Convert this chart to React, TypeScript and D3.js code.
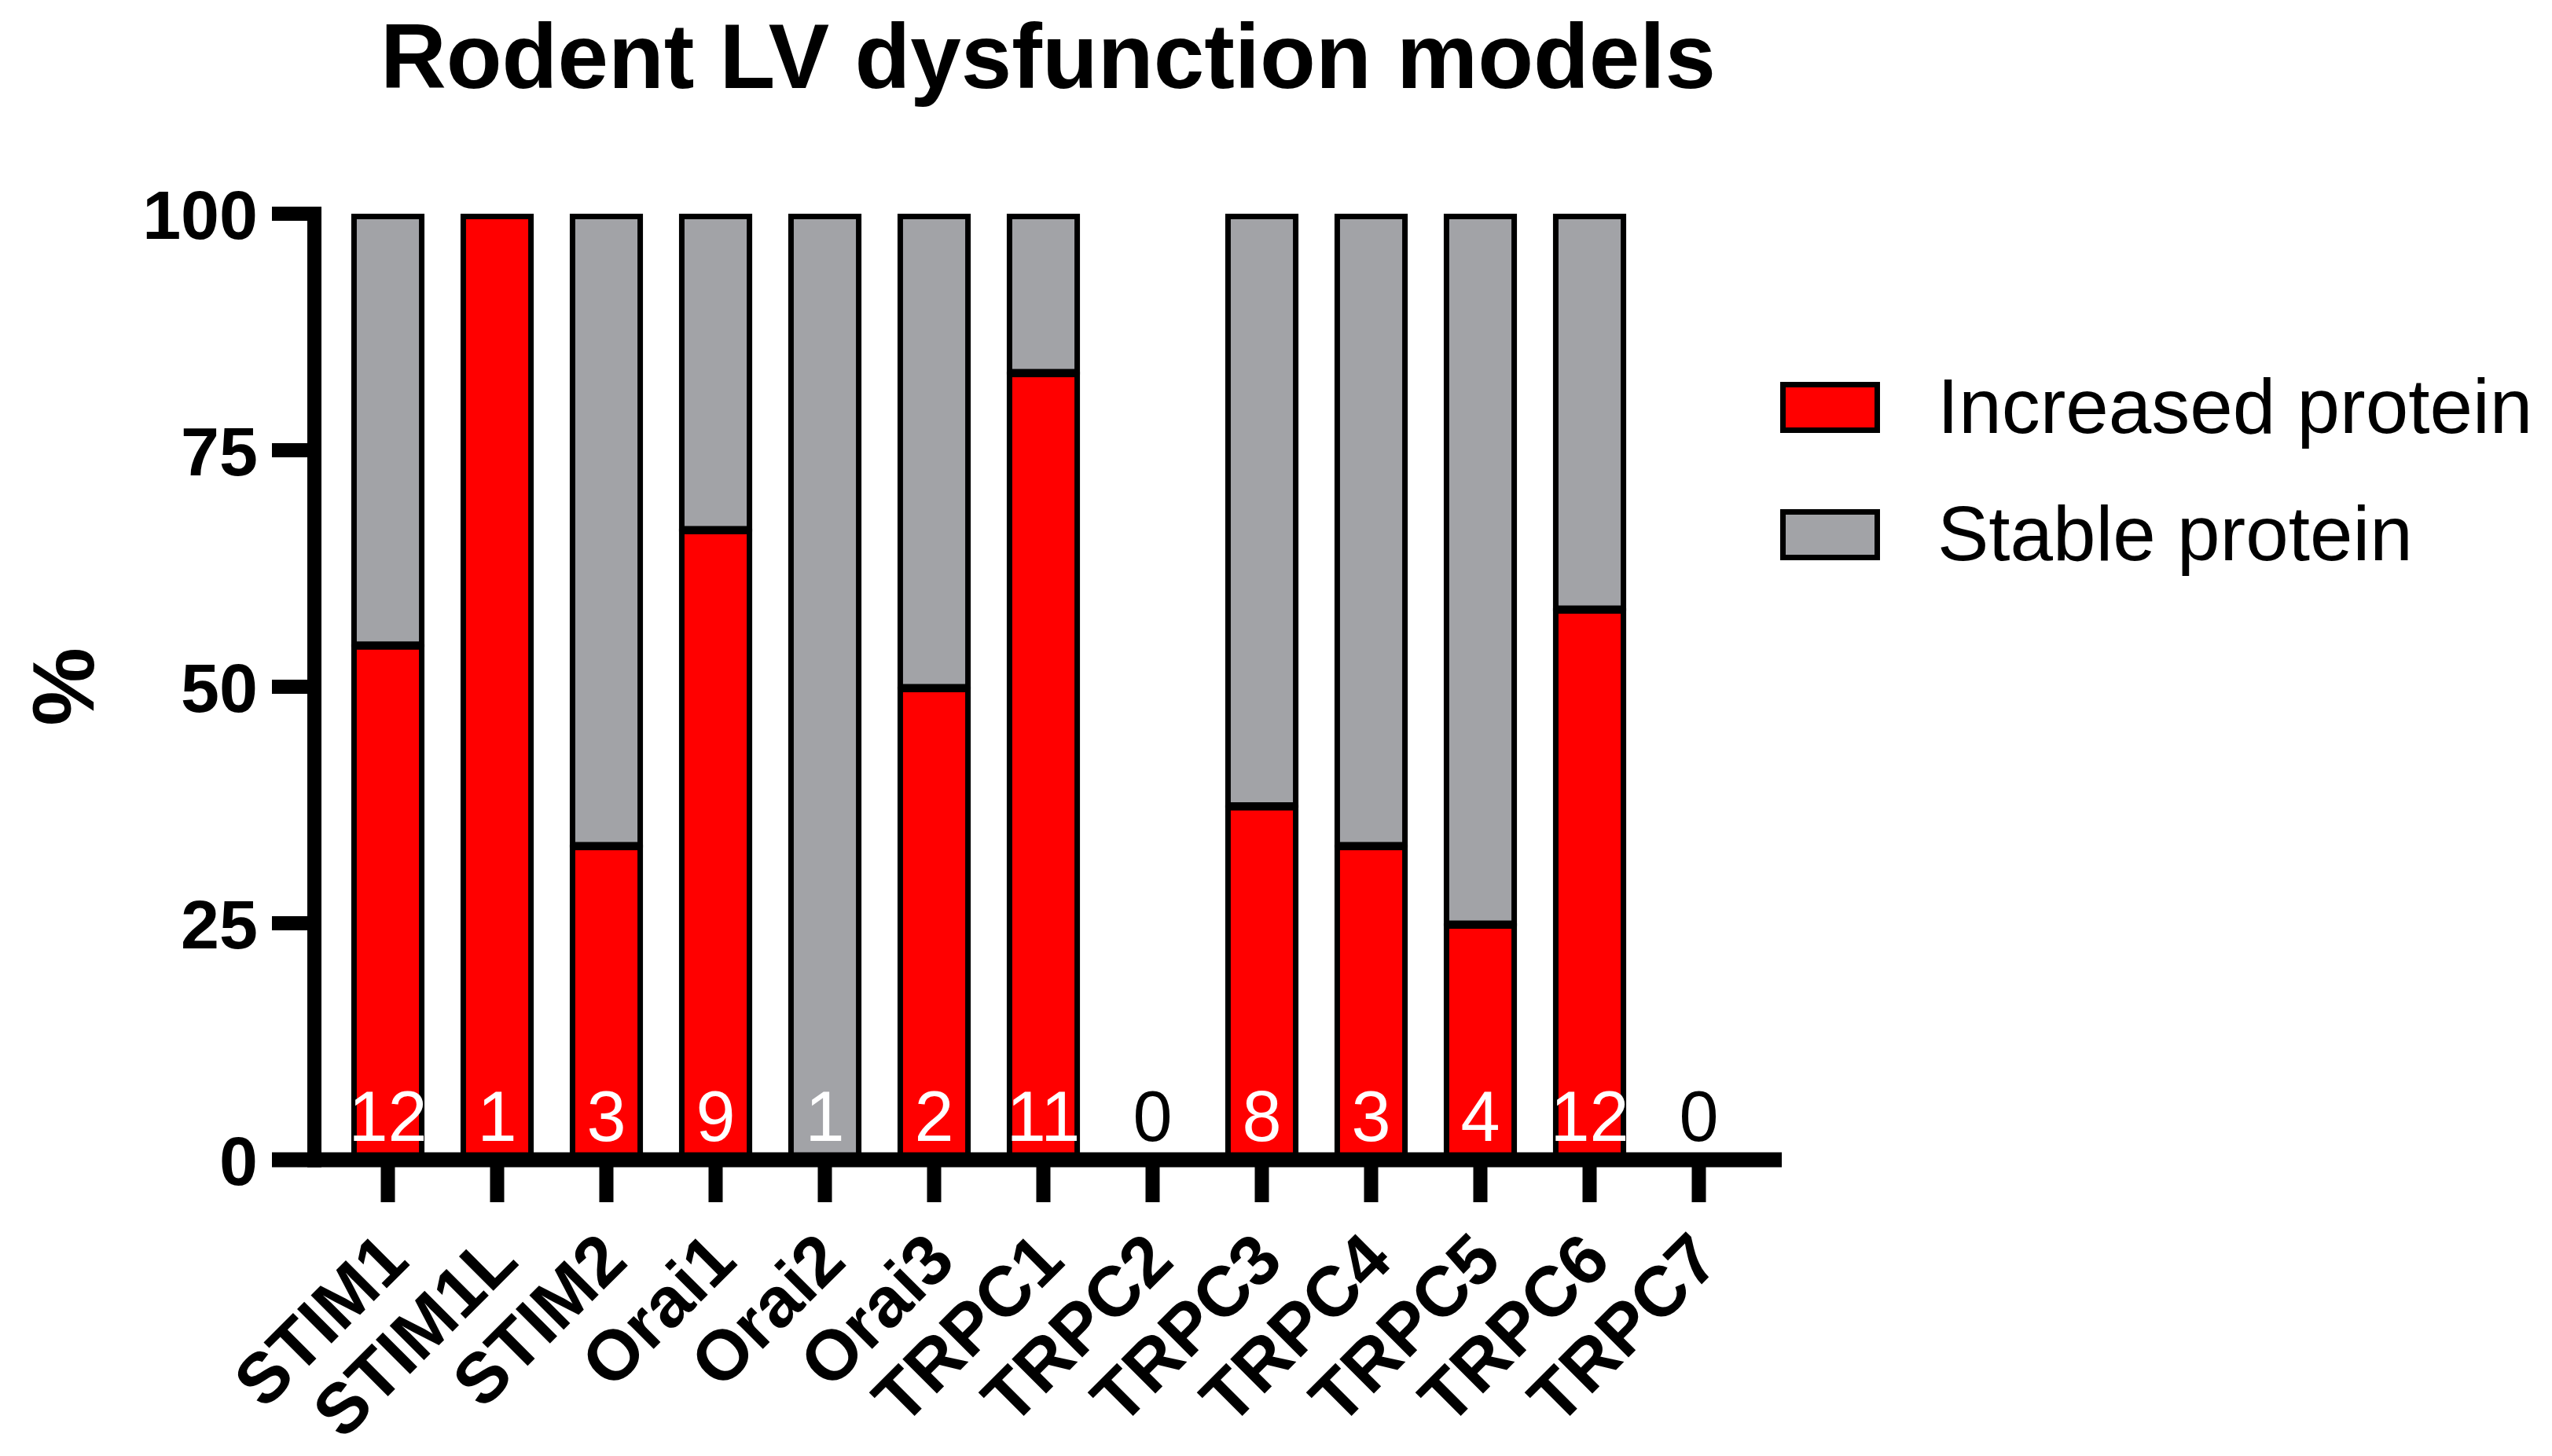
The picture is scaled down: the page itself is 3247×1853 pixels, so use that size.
import { useEffect, useRef } from "react";
import * as d3 from "d3";

/* ------------------------------------------------------------------ */
/*  Data                                                              */
/* ------------------------------------------------------------------ */

const categories = [
  "STIM1", "STIM1L", "STIM2", "Orai1", "Orai2", "Orai3", "TRPC1",
  "TRPC2", "TRPC3", "TRPC4", "TRPC5", "TRPC6", "TRPC7",
];

// % of studies per gene
const increased = [54.5, 100, 33.3, 66.7, 0, 50, 83.3, 0, 37.5, 33.3, 25, 58.3, 0];
const stable = [45.5, 0, 66.7, 33.3, 100, 50, 16.7, 0, 62.5, 66.7, 75, 41.7, 0];

// number of studies shown in each bar
const counts = [12, 1, 3, 9, 1, 2, 11, 0, 8, 3, 4, 12, 0];

const yTicks = [0, 25, 50, 75, 100];

const seriesKeys = ["increased", "stable"];
const seriesLabels = ["Increased protein", "Stable protein"];
const seriesColors = ["#ff0000", "#a2a3a7"];

const TITLE = "Rodent LV dysfunction models";
const Y_LABEL = "%";

/* ------------------------------------------------------------------ */
/*  Layout                                                            */
/* ------------------------------------------------------------------ */

const W = 3247;
const H = 1853;
const FONT = "'Liberation Sans', Arial, Helvetica, sans-serif";
const AXIS_X = 400; // y axis line
const AXIS_W = 18; // axis stroke
const TICK_LEN = 54;
const BAR_STROKE = 7;

export default function App() {
  const svgRef = useRef<SVGSVGElement>(null);

  useEffect(() => {
    const svg = d3.select(svgRef.current);
    svg.selectAll("*").remove();

    const rows = categories.map((c, i) => ({
      cat: c,
      increased: increased[i],
      stable: stable[i],
      n: counts[i],
    }));

    const x = d3
      .scaleBand<string>()
      .domain(categories)
      .range([424, 2231])
      .paddingInner(0.33)
      .paddingOuter(0.165);

    const y = d3.scaleLinear().domain([0, 100]).range([1476, 272]);

    const stack = d3.stack<any>().keys(seriesKeys);
    const layers = stack(rows);

    // Bars: stable (grey) first, then increased (red) on top
    const order = [1, 0];
    for (const li of order) {
      const layer = layers[li];
      svg
        .append("g")
        .selectAll("rect")
        .data(layer.filter((d) => d[1] - d[0] > 0))
        .join("rect")
        .attr("x", (d) => (x(d.data.cat) as number) + BAR_STROKE / 2)
        .attr("width", x.bandwidth() - BAR_STROKE)
        .attr("y", (d) => y(d[1]) + BAR_STROKE / 2)
        .attr("height", (d) => y(d[0]) - y(d[1]) - BAR_STROKE / 2)
        .attr("fill", seriesColors[li])
        .attr("stroke", "#000")
        .attr("stroke-width", BAR_STROKE);
    }

    // Count labels
    svg
      .append("g")
      .selectAll("text")
      .data(rows)
      .join("text")
      .attr("x", (d) => (x(d.cat) as number) + x.bandwidth() / 2)
      .attr("y", y(0) - 24)
      .attr("text-anchor", "middle")
      .attr("font-family", FONT)
      .attr("font-size", 90)
      .attr("fill", (d) => (d.n > 0 ? "#fff" : "#000"))
      .text((d) => d.n);

    // Y axis
    const yAxis = svg.append("g");
    const yTop = y(100) - AXIS_W / 2;
    const xEnd = x.range()[1] + 36;
    yAxis
      .append("line")
      .attr("x1", AXIS_X)
      .attr("x2", AXIS_X)
      .attr("y1", yTop)
      .attr("y2", y(0) + AXIS_W / 2 + 0.5)
      .attr("stroke", "#000")
      .attr("stroke-width", AXIS_W);
    yAxis
      .selectAll("line.tick")
      .data(yTicks)
      .join("line")
      .attr("class", "tick")
      .attr("x1", AXIS_X - TICK_LEN)
      .attr("x2", AXIS_X)
      .attr("y1", (d) => y(d))
      .attr("y2", (d) => y(d))
      .attr("stroke", "#000")
      .attr("stroke-width", AXIS_W);
    yAxis
      .selectAll("text")
      .data(yTicks)
      .join("text")
      .attr("x", AXIS_X - TICK_LEN - 18)
      .attr("y", (d) => y(d))
      .attr("dy", "0.36em")
      .attr("text-anchor", "end")
      .attr("font-family", FONT)
      .attr("font-weight", "bold")
      .attr("font-size", 88)
      .text((d) => d);

    // X axis
    const xAxis = svg.append("g");
    xAxis
      .append("line")
      .attr("x1", AXIS_X - TICK_LEN)
      .attr("x2", xEnd)
      .attr("y1", y(0))
      .attr("y2", y(0))
      .attr("stroke", "#000")
      .attr("stroke-width", AXIS_W + 1);
    xAxis
      .selectAll("line.tick")
      .data(categories)
      .join("line")
      .attr("class", "tick")
      .attr("x1", (d) => (x(d) as number) + x.bandwidth() / 2)
      .attr("x2", (d) => (x(d) as number) + x.bandwidth() / 2)
      .attr("y1", y(0))
      .attr("y2", y(0) + TICK_LEN)
      .attr("stroke", "#000")
      .attr("stroke-width", AXIS_W);
    xAxis
      .selectAll("text")
      .data(categories)
      .join("text")
      .attr(
        "transform",
        (d) => `translate(${(x(d) as number) + x.bandwidth() / 2 + 30},${y(0) + 132}) rotate(-45)`,
      )
      .attr("text-anchor", "end")
      .attr("font-family", FONT)
      .attr("font-weight", "bold")
      .attr("font-size", 90)
      .text((d) => d);

    // Y label
    svg
      .append("text")
      .attr("transform", `translate(79,${(y(0) + y(100)) / 2}) rotate(-90)`)
      .attr("dy", "0.36em")
      .attr("text-anchor", "middle")
      .attr("font-family", FONT)
      .attr("font-weight", "bold")
      .attr("font-size", 112)
      .text(Y_LABEL);

    // Title
    svg
      .append("text")
      .attr("x", (AXIS_X + xEnd) / 2)
      .attr("y", 112)
      .attr("text-anchor", "middle")
      .attr("font-family", FONT)
      .attr("font-weight", "bold")
      .attr("font-size", 116)
      .text(TITLE);

    // Legend
    const legend = svg.append("g").attr("transform", "translate(2265,486)");
    const items = legend
      .selectAll("g")
      .data(seriesLabels)
      .join("g")
      .attr("transform", (_, i) => `translate(0,${i * 162})`);
    items
      .append("rect")
      .attr("x", 3.5)
      .attr("y", 3.5)
      .attr("width", 120)
      .attr("height", 58)
      .attr("fill", (_, i) => seriesColors[i])
      .attr("stroke", "#000")
      .attr("stroke-width", BAR_STROKE);
    items
      .append("text")
      .attr("x", 200)
      .attr("y", 65)
      .attr("font-family", FONT)
      .attr("font-size", 98)
      .attr("fill", "#000")
      .text((d) => d);
  }, []);

  return (
    <svg
      ref={svgRef}
      width={W}
      height={H}
      viewBox={`0 0 ${W} ${H}`}
      style={{ position: "absolute", left: 0, top: 0, background: "#fff" }}
    />
  );
}
